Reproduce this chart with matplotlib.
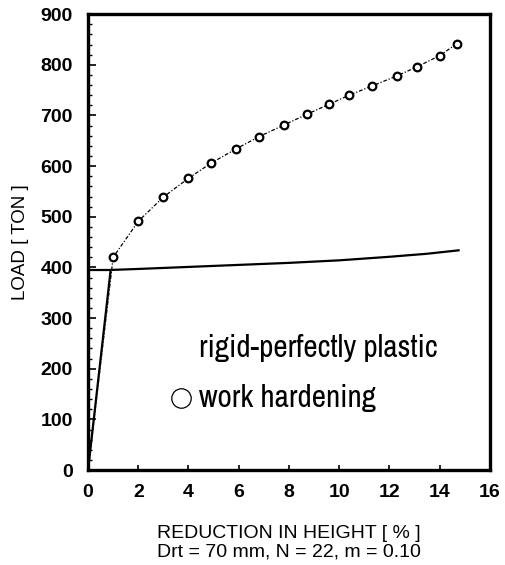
import matplotlib
matplotlib.use("Agg")
import matplotlib.pyplot as plt
from matplotlib import font_manager
from matplotlib.ticker import MultipleLocator

# Work-hardening solution (measured points)
wh_reduction = [0.0, 1.0, 2.0, 3.0, 4.0, 4.9, 5.9, 6.8, 7.8, 8.7, 9.6, 10.4, 11.3, 12.3, 13.1, 14.0, 14.7]
wh_load = [0, 420, 491, 539, 576, 606, 634, 658, 681, 702, 722, 740, 758, 778, 796, 818, 842]

# Rigid-perfectly plastic solution
rp_reduction = [0.0, 0.9, 2.0, 4.0, 6.0, 8.0, 10.0, 12.0, 13.5, 14.8]
rp_load = [0, 395, 397, 401, 405, 409, 414, 421, 427, 434]
rp_yield_load = 395

x_ticks = [0, 2, 4, 6, 8, 10, 12, 14, 16]
y_ticks = [0, 100, 200, 300, 400, 500, 600, 700, 800, 900]

plt.rcParams['font.family'] = ['Liberation Sans', 'DejaVu Sans']

# pick a condensed face for the key if one is available
names = sorted({f.name for f in font_manager.fontManager.ttflist})
narrow = [n for n in names if 'Narrow' in n or 'Condensed' in n]
if narrow:
    key_family = [narrow[0], 'Liberation Sans']
    key_size = 22.5
else:
    key_family = ['Liberation Sans']
    key_size = 18.5

fig = plt.figure(figsize=(5.06, 5.65), dpi=100)
ax = fig.add_axes([0.174, 0.168, 0.794, 0.807])

# rigid-perfectly plastic curve
ax.plot(rp_reduction, rp_load, color='black', lw=1.6, solid_capstyle='butt')
ax.plot([rp_reduction[0], rp_reduction[1]], [rp_yield_load, rp_yield_load],
        color='black', lw=1.6)

# work-hardening curve
ax.plot(wh_reduction, wh_load, color='black', lw=0.9, ls=(0, (3, 1.5, 1, 1.5)))
ax.plot(wh_reduction[1:], wh_load[1:], ls='none', marker='o', ms=5.5,
        mfc='white', mec='black', mew=1.6)

ax.set_xlim(0, 16)
ax.set_ylim(0, 900)
ax.set_xticks(x_ticks)
ax.set_yticks(y_ticks)
ax.yaxis.set_minor_locator(MultipleLocator(20))

for s in ax.spines.values():
    s.set_linewidth(2.4)

ax.tick_params(axis='both', which='major', direction='in', width=1.2)
ax.tick_params(axis='y', which='major', length=6, pad=11, labelsize=14)
ax.tick_params(axis='x', which='major', length=3.5, pad=10, labelsize=14)
ax.tick_params(axis='y', which='minor', direction='in', length=3, width=1)
for lab in ax.get_xticklabels() + ax.get_yticklabels():
    lab.set_fontweight('bold')

ax.set_ylabel('LOAD [ TON ]', fontsize=13.5)
ax.yaxis.set_label_coords(-0.148, 0.5)
ax.set_xlabel('REDUCTION IN HEIGHT [ % ]\nDrt = 70 mm, N = 22, m = 0.10',
              fontsize=14, linespacing=1.15, labelpad=17)

# key
ax.text(0.276, 0.248, 'rigid-perfectly plastic', transform=ax.transAxes,
        fontsize=key_size, family=key_family, va='baseline')
ax.text(0.276, 0.138, 'work hardening', transform=ax.transAxes,
        fontsize=key_size, family=key_family, va='baseline')
ax.plot([0.231], [0.159], transform=ax.transAxes, marker='o', ms=14,
        mfc='none', mec='black', mew=0.9, ls='none', clip_on=False)

fig.savefig('out.png', dpi=100)
